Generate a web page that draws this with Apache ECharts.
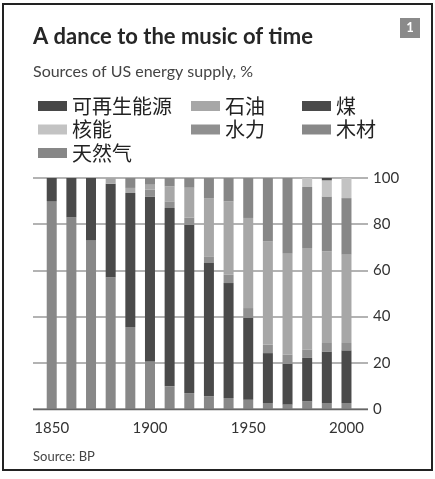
<!DOCTYPE html>
<html><head><meta charset="utf-8">
<script src="https://cdn.jsdelivr.net/npm/echarts@6/dist/echarts.min.js"></script>
<style>html,body{margin:0;padding:0;background:#fff}#c{width:435px;height:479px}</style>
</head><body><div id="c"></div>
<script>
var years = ['1850','1860','1870','1880','1890','1900','1910','1920','1930','1940','1950','1960','1970','1980','1990','2000'];
var wood      = [90, 83, 73, 57, 35.5, 20.6, 9.8, 6.9, 5.5, 4.8, 4, 2.6, 1.9, 3.3, 2.6, 2.6];
var coal      = [10, 17, 27, 40.5, 58, 71.4, 77.2, 72.9, 57.7, 49.7, 35.4, 21.6, 17.7, 18.8, 22.3, 22.8];
var hydro     = [0, 0, 0, 0, 0, 2.9, 2.9, 3, 2.9, 3.6, 4.3, 3.6, 3.9, 3.6, 3.7, 3.2];
var oil       = [0, 0, 0, 2.5, 2.2, 2.2, 6.5, 13, 25.2, 31.8, 39, 44.8, 44, 44, 39.6, 38.2];
var gas       = [0, 0, 0, 0, 4.3, 2.9, 3.6, 4.3, 8.7, 10.1, 17.3, 27.4, 32.5, 26.4, 23.8, 24.5];
var nuclear   = [0, 0, 0, 0, 0, 0, 0, 0, 0, 0, 0, 0, 0, 3.9, 7, 8.7];
var renewable = [0, 0, 0, 0, 0, 0, 0, 0, 0, 0, 0, 0, 0, 0, 1, 0];
var yearTicks = ['1850', '1900', '1950', '2000'];

var names = {wood:'木材', coal:'煤', hydro:'水力', oil:'石油', gas:'天然气', nuclear:'核能', renewable:'可再生能源'};
var colors = {wood:'#888888', coal:'#4a4a4a', hydro:'#909090', oil:'#a7a7a7', gas:'#878787', nuclear:'#c3c3c3', renewable:'#474747'};
var dataMap = {wood:wood, coal:coal, hydro:hydro, oil:oil, gas:gas, nuclear:nuclear, renewable:renewable};
var order = ['wood','coal','hydro','oil','gas','nuclear','renewable'];

var latin = 'Lato, "Noto Sans", sans-serif';
var cjk = '"Noto Sans CJK SC", sans-serif';

var series = order.map(function(k){
  return {
    name: names[k], type: 'bar', stack: 'total', barWidth: 10,
    xAxisIndex: 0, yAxisIndex: 0,
    itemStyle: {color: colors[k]},
    data: dataMap[k]
  };
});

var legendBase = {
  orient: 'vertical', icon: 'rect', itemWidth: 29, itemHeight: 10, itemGap: 3.5,
  textStyle: {fontFamily: cjk, fontSize: 20, lineHeight: 20, color: '#222'},
  top: 91, selectedMode: false
};
function mkLegend(left, data){ var o = JSON.parse(JSON.stringify(legendBase)); o.left = left; o.data = data; return o; }

var chart = echarts.init(document.getElementById('c'));
chart.setOption({
  animation: false,
  backgroundColor: '#fff',
  title: [
    {text: 'A dance to the music of time', left: 28, top: 21, textStyle: {fontFamily: latin, fontSize: 22, fontWeight: 'bold', color: '#262626'}},
    {text: 'Sources of US energy supply, %', left: 28, top: 59, textStyle: {fontFamily: latin, fontSize: 16, fontWeight: 'normal', color: '#444'}},
    {text: 'Source: BP', left: 28, top: 445, textStyle: {fontFamily: latin, fontSize: 13, fontWeight: 'normal', color: '#444'}}
  ],
  legend: [
    mkLegend(33, [names.renewable, names.nuclear, names.gas]),
    mkLegend(186, [names.oil, names.hydro]),
    mkLegend(297, [names.coal, names.wood])
  ],
  grid: [
    {left: 41.9, right: 78.7, top: 178, bottom: 70},
    {left: 33, right: 67, top: 178, bottom: 70}
  ],
  xAxis: [
    {
      type: 'category', gridIndex: 0, data: years,
      axisLine: {show: false}, axisTick: {show: false}, splitLine: {show: false},
      axisLabel: {
        interval: function(i, v){ return yearTicks.indexOf(v) >= 0; },
        fontFamily: latin, fontSize: 15, color: '#333', margin: 12
      }
    },
    {type: 'value', gridIndex: 1, min: 0, max: 1, show: false}
  ],
  yAxis: [
    {type: 'value', gridIndex: 0, min: 0, max: 100, show: false, splitLine: {show: false}},
    {
      type: 'value', gridIndex: 1, position: 'right', min: 0, max: 100, interval: 20,
      axisLine: {show: false}, axisTick: {show: false},
      splitLine: {lineStyle: {color: '#9a9a9a', width: 1.5}},
      axisLabel: {fontFamily: latin, fontSize: 15, color: '#333', margin: 5}
    }
  ],
  graphic: [
    {type: 'rect', shape: {x: 3, y: 4, width: 429, height: 466}, style: {fill: 'none', stroke: '#222', lineWidth: 2}, z: 100},
    {type: 'rect', shape: {x: 400, y: 18, width: 20, height: 20}, style: {fill: '#8a8a8a'}},
    {type: 'text', x: 410, y: 28, style: {text: '1', fill: '#fff', font: 'bold 13px Lato, sans-serif', textAlign: 'center', textVerticalAlign: 'middle'}},
    {type: 'line', shape: {x1: 33, y1: 409.5, x2: 368, y2: 409.5}, style: {stroke: '#666', lineWidth: 1.5}, z: 50}
  ],
  series: series
});
</script></body></html>
